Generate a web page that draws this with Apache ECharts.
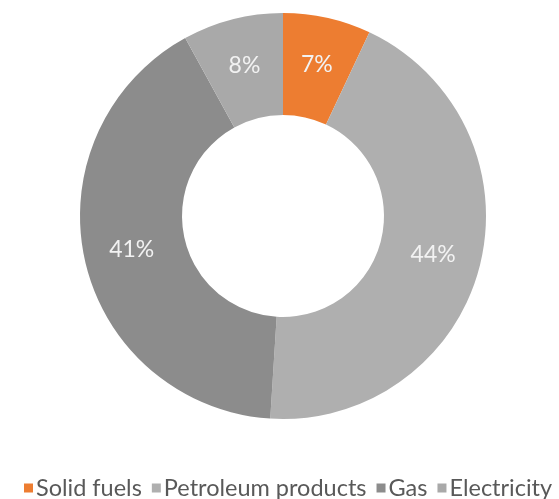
<!DOCTYPE html>
<html>
<head>
<meta charset="utf-8">
<script src="https://cdn.jsdelivr.net/npm/echarts@6/dist/echarts.min.js"></script>
<style>html,body{margin:0;padding:0;background:#fff}#c{width:559px;height:499px}</style>
</head>
<body>
<div id="c"></div>
<script>
const categories = ["Solid fuels", "Petroleum products", "Gas", "Electricity"];
const shares = [7, 44, 41, 8];
const colors = ["#ED7D31", "#AFAFAF", "#8C8C8C", "#A9A9A9"];

const chart = echarts.init(document.getElementById('c'), null, {renderer: 'canvas'});
chart.setOption({
  animation: false,
  color: colors,
  legend: {
    data: categories,
    left: 24,
    top: 476,
    padding: 0,
    icon: 'rect',
    itemWidth: 9,
    itemHeight: 9,
    itemGap: 10,
    textStyle: {fontFamily: 'Lato', fontSize: 23.5, color: '#595959', padding: [0, 0, 0, -2]}
  },
  series: [{
    type: 'pie',
    center: [283, 216],
    radius: [101, 203],
    startAngle: 90,
    clockwise: true,
    avoidLabelOverlap: false,
    label: {
      show: true,
      position: 'inside',
      formatter: '{d}%',
      color: '#F2F2F2',
      fontFamily: 'Lato',
      fontSize: 23
    },
    labelLine: {show: false},
    emphasis: {disabled: true},
    data: categories.map((n, i) => ({name: n, value: shares[i]}))
  }]
});
</script>
</body>
</html>
